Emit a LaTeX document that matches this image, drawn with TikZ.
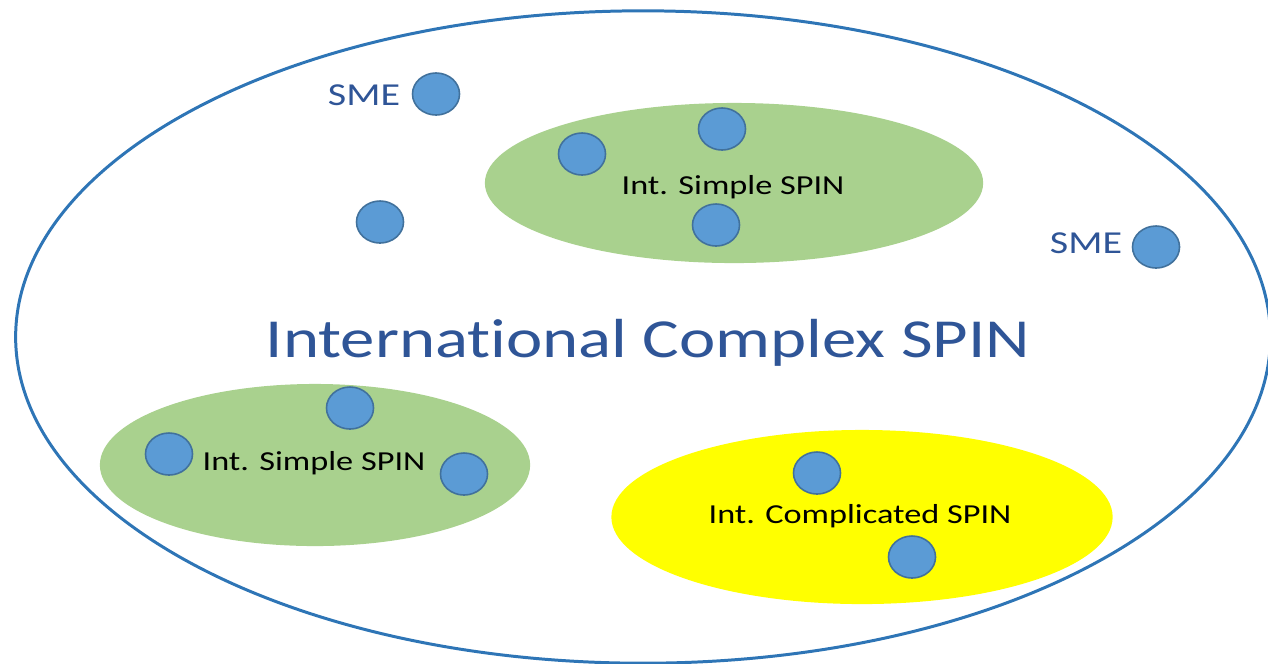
\documentclass[tikz,border=0pt]{standalone}
\usepackage{fontspec}
\setmainfont[FakeStretch=1.25, Ligatures=NoCommon]{Carlito}
\usetikzlibrary{shapes.geometric}

\definecolor{outerline}{HTML}{2E75B6}
\definecolor{smefill}{HTML}{5B9BD5}
\definecolor{smeedge}{HTML}{41719C}
\definecolor{simplegreen}{HTML}{A9D18E}
\definecolor{complicatedyellow}{HTML}{FFFF00}
\definecolor{titleblue}{HTML}{2F5597}

\begin{document}
\begin{tikzpicture}[
    x=0.01cm, y=-0.01cm,
    sme/.style={ellipse, draw=smeedge, fill=smefill, line width=0.45pt, inner sep=0pt, minimum width=0.47cm, minimum height=0.42cm},
    spin/.style={ellipse, inner sep=0pt},
    smetext/.style={anchor=base, text=titleblue, font=\fontsize{9.1}{11}\selectfont},
    spintext/.style={anchor=base, text=black, font=\fontsize{7.8}{9}\selectfont}
]
\useasboundingbox (0,0) rectangle (1268,663);

% Outer complex SPIN
\node[ellipse, draw=outerline, line width=0.85pt, inner sep=0pt, minimum width=12.54cm, minimum height=6.52cm] (complex) at (643,337) {};

% Inner SPINs
\node[spin, fill=simplegreen, minimum width=4.98cm, minimum height=1.60cm] (simpleA) at (734,183) {};
\node[spin, fill=simplegreen, minimum width=4.30cm, minimum height=1.62cm] (simpleB) at (315,465) {};
\node[spin, fill=complicatedyellow, minimum width=5.01cm, minimum height=1.74cm] (complicated) at (862,517) {};

% SMEs
\node[sme] (s1) at (436,94) {};
\node[sme] (s2) at (380,222) {};
\node[sme] (s3) at (1156,247) {};
\node[sme] (s4) at (582,154) {};
\node[sme] (s5) at (722,129) {};
\node[sme] (s6) at (716,225) {};
\node[sme] (s7) at (169,454) {};
\node[sme] (s8) at (350,408) {};
\node[sme] (s9) at (464,474) {};
\node[sme] (s10) at (817,473) {};
\node[sme] (s11) at (912,557) {};

% Labels
\node[smetext] (smeA) at (364,105) {SME};
\node[smetext] (smeB) at (1086,253) {SME};
\node[anchor=base, text=titleblue, font=\fontsize{15.65}{18}\selectfont] (title) at (648,357) {International Complex SPIN};
\node[spintext] (simpleAtext) at (733,194) {Int. Simple SPIN};
\node[spintext] (simpleBtext) at (314,470) {Int. Simple SPIN};
\node[spintext] (complicatedtext) at (860,523) {Int. Complicated SPIN};

\end{tikzpicture}
\end{document}
